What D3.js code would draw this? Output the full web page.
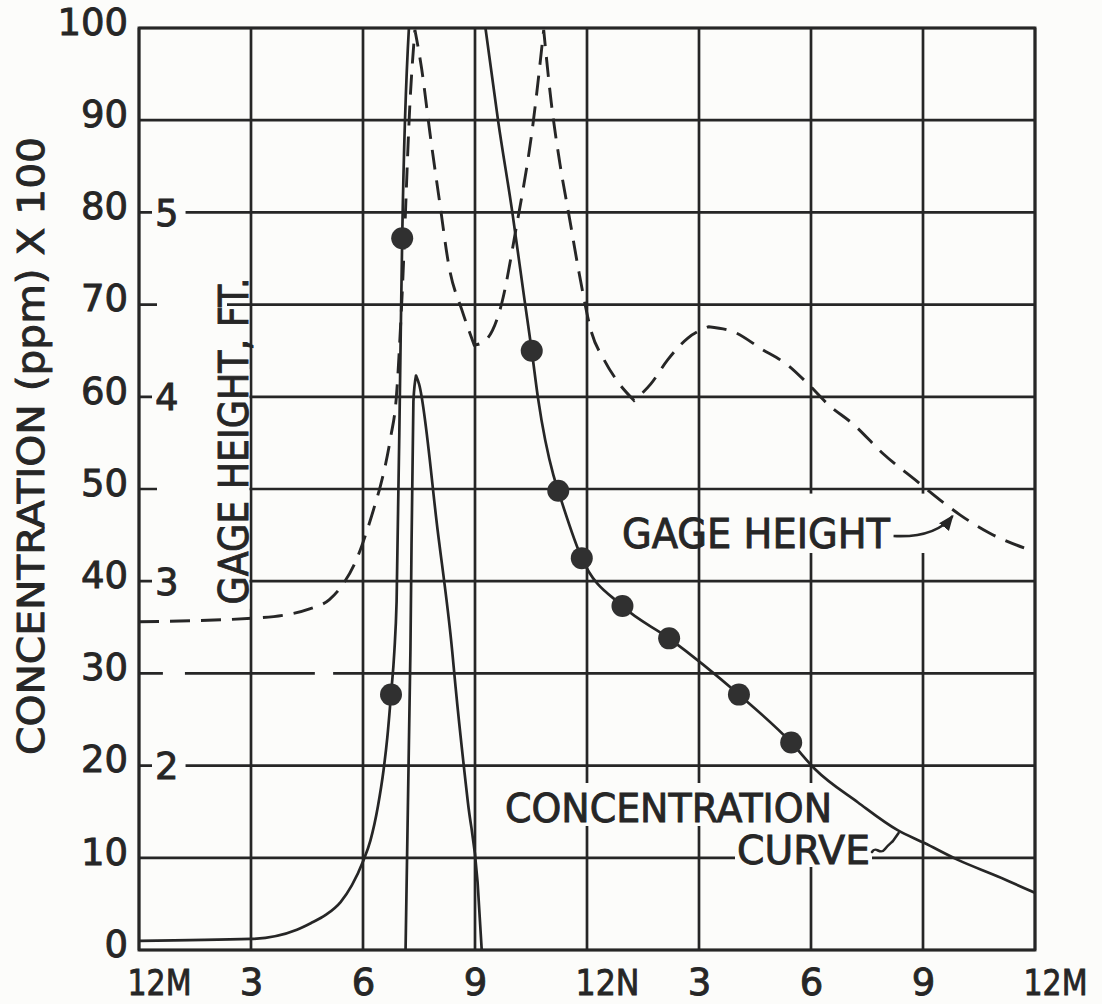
<!DOCTYPE html>
<html><head><meta charset="utf-8">
<script src="https://cdn.jsdelivr.net/npm/d3@7/dist/d3.min.js"></script>
<style>body{margin:0;background:#fcfcfa} svg{display:block}</style>
</head><body>
<svg id="c" width="1102" height="1004"></svg>
<script>
// ---------- data ----------
const hourTicks = [0, 3, 6, 9, 12, 15, 18, 21, 24];
const hourLabels = ["12M", "3", "6", "9", "12N", "3", "6", "9", "12M"];
const concTicks = [0, 10, 20, 30, 40, 50, 60, 70, 80, 90, 100];
const gageTicks = [2, 3, 4, 5];

// concentration curve (ppm x 100), rising limb (leaves chart at top)
const riseHours = [0, 3, 4.23, 4.6, 5.0, 5.4, 5.7, 6.0, 6.2, 6.4, 6.55, 6.65, 6.75, 6.84, 6.9, 7.01, 7.05, 7.23];
const riseConc  = [1.0, 1.2, 2.2, 2.9, 3.8, 5.2, 7.0, 9.6, 11.9, 15.6, 19.5, 23.0, 27.7, 32.4, 37.8, 66.7, 77.2, 100];
// narrow spike
const spikeHours = [7.14, 7.27, 7.35, 7.42, 7.5, 8.0, 8.39, 8.48, 8.81, 9.07, 9.18];
const spikeConc  = [0, 32.4, 59.5, 62.3, 61.4, 45.5, 32.4, 28.5, 16.0, 7.3, 0];
// falling limb (enters chart at top)
const fallHours = [9.28, 9.62, 10.0, 10.33, 10.52, 10.69, 11.1, 11.23, 11.86, 12.95, 14.2, 16.07, 17.47, 18.11, 19.26, 20.32, 21.04, 21.92, 22.99, 24];
const fallConc  = [100, 89.9, 80, 70.4, 65, 59.8, 51.5, 49.8, 42.5, 37.3, 33.8, 27.7, 22.5, 19.6, 16.0, 13.0, 11.6, 9.8, 8.0, 6.2];
// sampled points
const sampleHours = [6.75, 7.05, 10.52, 11.23, 11.86, 12.95, 14.2, 16.07, 17.47];
const sampleConc  = [27.7, 77.2, 65, 49.8, 42.5, 37.3, 33.8, 27.7, 22.5];
// gage height, ft
const gageHours = [0, 3.1, 4.0, 4.57, 5.1, 5.45, 5.83, 6.1, 6.3, 6.47, 6.6, 6.74, 6.89, 7.04, 7.27, 7.39, 7.57, 7.8, 8.05, 8.31, 8.65, 8.98, 9.25, 9.72, 10.08, 10.56, 10.84, 11.04, 11.27, 11.53, 11.79, 12.12, 12.46, 12.83, 13.26, 13.71, 14.16, 14.71, 15.26, 15.95, 16.67, 17.39, 17.92, 18.45, 19.14, 19.94, 20.85, 21.46, 21.99, 22.79, 24];
const gageFt    = [2.78, 2.80, 2.82, 2.85, 2.90, 2.98, 3.12, 3.27, 3.40, 3.52, 3.63, 3.78, 3.99, 4.52, 5.64, 5.99, 5.78, 5.42, 5.06, 4.70, 4.47, 4.28, 4.30, 4.51, 4.89, 5.49, 5.99, 5.60, 5.27, 4.97, 4.67, 4.35, 4.20, 4.08, 3.98, 4.07, 4.20, 4.32, 4.38, 4.35, 4.26, 4.17, 4.07, 3.96, 3.85, 3.69, 3.54, 3.44, 3.36, 3.26, 3.16];

// ---------- setup ----------
const F = "'DejaVu Sans', 'Noto Sans', sans-serif";
const ink = "#262626";
const bg = "#fcfcfa";
const svg = d3.select("#c");
svg.append("rect").attr("width", 1102).attr("height", 1004).attr("fill", bg);

const x = d3.scaleLinear().domain([0, 24]).range([139, 1035]);
const y = d3.scaleLinear().domain([0, 100]).range([950, 28]);
const yG = d3.scaleLinear().domain([1, 6]).range([950, 28]);

function inkText(sel, size) {
  sel.attr("font-size", size).attr("font-family", F).attr("fill", ink)
    .attr("stroke", ink).attr("stroke-width", 0.9);
}

// ---------- grid ----------
const grid = svg.append("g").attr("stroke", ink).attr("stroke-width", 2.7).attr("fill", "none");
grid.selectAll("line.v").data(hourTicks).join("line")
  .attr("x1", d => x(d)).attr("x2", d => x(d)).attr("y1", y(100)).attr("y2", y(0));
grid.selectAll("line.h").data(concTicks).join("line")
  .attr("y1", d => y(d)).attr("y2", d => y(d)).attr("x1", x(0)).attr("x2", x(24));

// gaps in the grid (paper-coloured masks)
const masks = svg.append("g").attr("fill", bg);
masks.append("rect").attr("x", x(0) + 18).attr("width", x(3) - 1.6 - x(0) - 18)
  .attr("y", y(63)).attr("height", y(37) - y(63));
masks.append("rect").attr("x", x(0) + 18).attr("width", 70)
  .attr("y", y(70) - 4).attr("height", 8);
masks.append("rect").attr("x", x(0.64)).attr("width", x(1.23) - x(0.64)).attr("y", y(30) - 4).attr("height", 8);
masks.append("rect").attr("x", x(4.71)).attr("width", x(5.2) - x(4.71)).attr("y", y(30) - 4).attr("height", 8);

// ---------- axes labels ----------
const yAx = svg.append("g").attr("transform", `translate(${x(0)},0)`)
  .call(d3.axisLeft(y).tickValues(concTicks).tickSize(0).tickPadding(11));
yAx.select(".domain").remove();
yAx.selectAll("text").call(inkText, 37).attr("dy", "0.17em");

const xAx = svg.append("g").attr("transform", `translate(0,${y(0)})`)
  .call(d3.axisBottom(x).tickValues(hourTicks).tickFormat((d, i) => hourLabels[i]).tickSize(0).tickPadding(19));
xAx.select(".domain").remove();
xAx.selectAll("text").call(inkText, 37)
  .each(function (d, i) {
    if (hourLabels[i].length > 1) {
      d3.select(this).attr("text-anchor", "start").attr("dx", -12).attr("font-size", 36)
        .attr("dy", "0.73em")
        .attr("textLength", 64).attr("lengthAdjust", "spacingAndGlyphs");
    }
  });

// gage-height scale labels inside the frame
const gl = svg.append("g");
gageTicks.forEach(g => {
  const t = gl.append("text").attr("x", x(0) + 16).attr("y", yG(g)).attr("dy", "0.36em").text(g).call(inkText, 37);
  const b = t.node().getBBox();
  masks.append("rect").attr("x", b.x - 3).attr("y", yG(g) - 4).attr("width", b.width + 10).attr("height", 8);
});

// titles
svg.append("text").attr("transform", `translate(44,446) rotate(-90)`)
  .attr("text-anchor", "middle").call(inkText, 37)
  .attr("textLength", 618).attr("lengthAdjust", "spacingAndGlyphs")
  .text("CONCENTRATION (ppm) X 100");
svg.append("text").attr("transform", `translate(248,441) rotate(-90)`)
  .attr("text-anchor", "middle").call(inkText, 40)
  .attr("textLength", 327).attr("lengthAdjust", "spacingAndGlyphs")
  .text("GAGE HEIGHT, FT.");

// annotation labels
masks.append("rect").attr("x", x(15) + 3).attr("y", y(49.5)).attr("width", x(21) + 6 - x(15) - 3).attr("height", 553 - y(49.5));
masks.append("rect").attr("x", 502).attr("y", 783).attr("width", 335).attr("height", 43);
masks.append("rect").attr("x", 735).attr("y", 826).attr("width", 137).attr("height", 41);

const ann = svg.append("g");
const gh = ann.append("text").attr("x", 622).attr("y", 548).attr("textLength", 268).attr("lengthAdjust", "spacingAndGlyphs").text("GAGE HEIGHT").call(inkText, 40);
ann.append("text").attr("x", 505).attr("y", 822).attr("textLength", 327).attr("lengthAdjust", "spacingAndGlyphs").text("CONCENTRATION").call(inkText, 39);
ann.append("text").attr("x", 737).attr("y", 864).attr("textLength", 133).attr("lengthAdjust", "spacingAndGlyphs").text("CURVE").call(inkText, 39);

// frame
svg.append("rect").attr("x", x(0)).attr("y", y(100)).attr("width", x(24) - x(0)).attr("height", y(0) - y(100))
  .attr("fill", "none").attr("stroke", ink).attr("stroke-width", 2.9);

// ---------- curves ----------
svg.append("clipPath").attr("id", "plot").append("rect")
  .attr("x", x(0)).attr("y", y(100)).attr("width", x(24) - x(0)).attr("height", y(0) - y(100));
const plot = svg.append("g").attr("clip-path", "url(#plot)");

function zip(a, b) { return a.map((v, i) => [v, b[i]]); }
function runs(pts) {
  // split a series into monotone runs at its turning points
  const out = []; let cur = [pts[0]];
  for (let i = 1; i < pts.length; i++) {
    cur.push(pts[i]);
    if (i < pts.length - 1) {
      const s1 = pts[i][1] - pts[i - 1][1], s2 = pts[i + 1][1] - pts[i][1];
      if (s1 * s2 < 0) { out.push(cur); cur = [pts[i]]; }
    }
  }
  out.push(cur);
  return out;
}
function pathOf(pts, ys) {
  const line = d3.line().x(d => x(d[0])).y(d => ys(d[1])).curve(d3.curveMonotoneX);
  return runs(pts).map((r, i) => { const s = line(r); return i ? s.replace(/^M/, "L") : s; }).join("");
}

plot.append("path").attr("d", pathOf(zip(gageHours, gageFt), yG))
  .attr("fill", "none").attr("stroke", ink).attr("stroke-width", 2.9).attr("stroke-dasharray", "20,11");

[zip(riseHours, riseConc), zip(spikeHours, spikeConc), zip(fallHours, fallConc)].forEach(p => {
  plot.append("path").attr("d", pathOf(p, y))
    .attr("fill", "none").attr("stroke", ink).attr("stroke-width", 2.7).attr("stroke-linejoin", "round");
});

svg.append("g").selectAll("circle").data(zip(sampleHours, sampleConc)).join("circle")
  .attr("cx", d => x(d[0])).attr("cy", d => y(d[1])).attr("r", 11).attr("fill", "#303030");

// ---------- leaders ----------
const defs = svg.append("defs");
defs.append("marker").attr("id", "arr").attr("viewBox", "0 0 10 10").attr("refX", 9).attr("refY", 5)
  .attr("markerWidth", 6).attr("markerHeight", 6).attr("orient", "auto")
  .append("path").attr("d", "M0,1 L10,5 L0,9 Z").attr("fill", ink);

const gb = gh.node().getBBox();
const gx = x(21.9), gy = yG(3.37);
svg.append("path")
  .attr("d", `M${gb.x + gb.width + 3},${548 - 12} Q${gb.x + gb.width + 45},${548 - 10} ${gx - 4},${gy + 3}`)
  .attr("fill", "none").attr("stroke", ink).attr("stroke-width", 2.6).attr("marker-end", "url(#arr)");

const cx = x(20.4), cy = y(12.9);
svg.append("path")
  .attr("d", `M872,852 c4,-7 8,4 13,-3 c3,-4 6,-6 8,-8 L${cx - 2},${cy + 2}`)
  .attr("fill", "none").attr("stroke", ink).attr("stroke-width", 2.6).attr("stroke-linecap", "round");
</script>
</body></html>
